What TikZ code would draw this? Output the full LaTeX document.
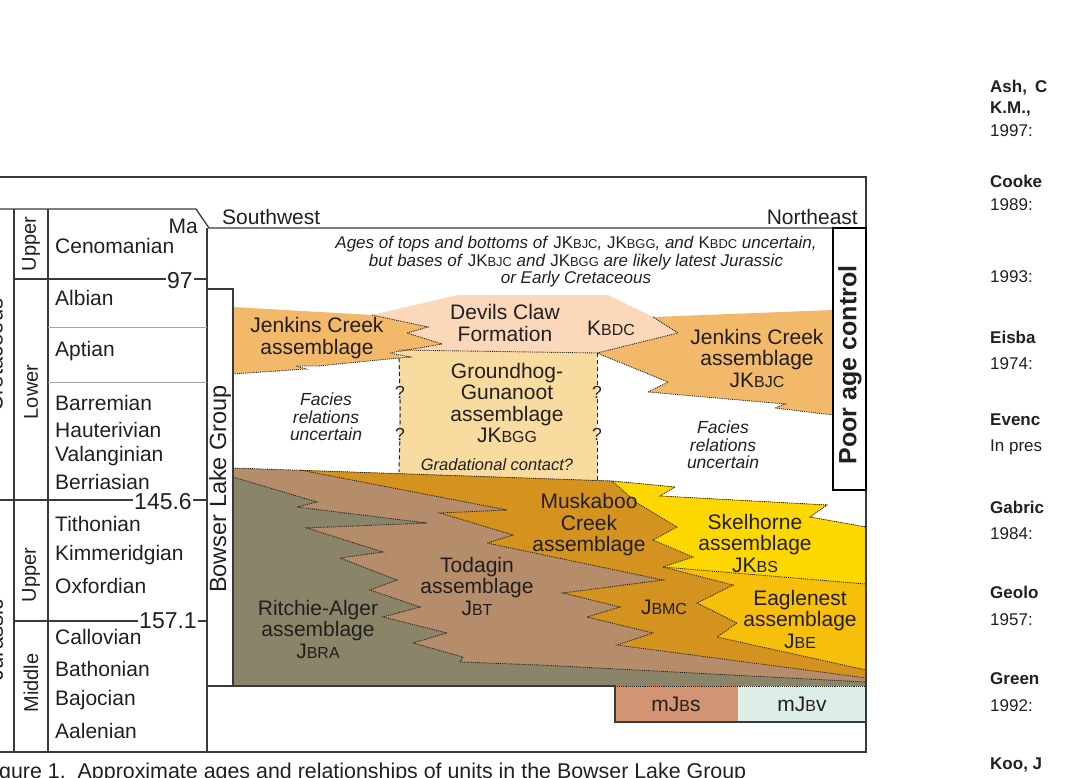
\documentclass[tikz,border=0pt]{standalone}
\usepackage{fontspec}
\setmainfont{Liberation Sans}
\usepackage{xcolor}
\usepackage{tikz}
\definecolor{framecol}{HTML}{3A3A3A}
\definecolor{inkcol}{HTML}{231F20}
\definecolor{jenkins}{HTML}{F2B96B}
\definecolor{devils}{HTML}{FAD8B9}
\definecolor{groundhog}{HTML}{F8DB9F}
\definecolor{ritchie}{HTML}{8A8468}
\definecolor{todagin}{HTML}{B58D6B}
\definecolor{muskaboo}{HTML}{D4931F}
\definecolor{skelhorne}{HTML}{FDD800}
\definecolor{eaglenest}{HTML}{F6BF0C}
\definecolor{mjbs}{HTML}{D39474}
\definecolor{mjbv}{HTML}{DDEEE6}
\newcommand{\fsize}[2]{\fontsize{#1}{#2}\selectfont}
\makeatletter
\newcommand{\smc}[1]{{\fontsize{\fpeval{0.76*\f@size}}{\f@baselineskip}\selectfont\upshape #1}}
\makeatother

\begin{document}
\begin{tikzpicture}[x=1pt,y=-1pt,
    frame/.style={draw=framecol,line width=1.3pt},
    thinrule/.style={draw=gray!70,line width=1pt},
    contact/.style={draw=inkcol,densely dotted,line width=0.9pt},
    gcontact/.style={draw=inkcol,dash pattern=on 4pt off 3pt,line width=1pt},
    unit/.style={font=\fsize{21}{21.5},align=center,text=inkcol,inner sep=0pt},
    stage/.style={font=\fsize{21}{21},text=inkcol,anchor=west,inner sep=0pt},
    epoch/.style={font=\fsize{20}{20},text=inkcol,rotate=90,inner sep=0pt},
    period/.style={font=\fsize{22}{22},text=inkcol,rotate=90,inner sep=0pt},
    age/.style={font=\fsize{23}{23},text=inkcol,inner sep=1.5pt},
    note/.style={font=\fsize{17.5}{17.5}\itshape,align=center,text=inkcol,inner sep=0pt},
    qmark/.style={font=\fsize{17.5}{17.5},text=inkcol,inner sep=1pt},
    ref/.style={font=\fsize{17}{17},text=inkcol,anchor=west,inner sep=0pt},
    refhead/.style={ref,font=\fsize{17}{17}\bfseries}]

  \useasboundingbox (0,0) rectangle (1068,778);
  \clip (0,0) rectangle (1068,778);

  \fill[devils] (372,315) -- (458,295) -- (608,295) -- (653,317) -- (678,333) -- (597,353) -- (399,353) -- cycle;
  \fill[jenkins] (233,307) -- (372,315) -- (428,327) -- (407,333) -- (442,344) -- (390,353) -- (410,357) -- (399,358) -- (318,366) -- (296,366) -- (306,369) -- (233,374) -- cycle;
  \fill[jenkins] (653,317) -- (833,310) -- (833,415) -- (775,408) -- (785,404) -- (648,392) -- (668,382) -- (597,353) -- (678,333) -- cycle;
  \fill[groundhog] (399,350) -- (597,353) -- (597,483) -- (399,476) -- cycle;

  \fill[ritchie] (233,468) -- (612,481) -- (675,487) -- (660,496) -- (827,505) -- (810,517) -- (866,527) -- (866,686) -- (233,686) -- cycle;
  \fill[todagin] (233,468) -- (612,481) -- (675,487) -- (660,496) -- (827,505) -- (810,517) -- (866,527) -- (866,682) -- (540,665) -- (460,662) -- (463,657) -- (413,643) -- (447,633) -- (383,617) -- (420,607) -- (370,590) -- (397,580) -- (340,558) -- (383,552) -- (307,528) -- (427,523) -- (297,507) -- (317,502) -- (233,477) -- cycle;
  \fill[muskaboo] (300,470) -- (612,481) -- (675,487) -- (660,496) -- (827,505) -- (810,517) -- (866,527) -- (866,678) -- (617,645) -- (653,633) -- (587,617) -- (620,607) -- (563,593) -- (663,580) -- (487,543) -- (513,535) -- (440,513) -- (507,510) -- cycle;
  \fill[skelhorne] (612,481) -- (675,487) -- (660,496) -- (827,505) -- (810,517) -- (866,527) -- (866,584) -- (663,567) -- (693,557) -- (653,540) -- (677,527) -- (637,503) -- cycle;
  \fill[eaglenest] (663,567) -- (866,584) -- (866,670) -- (717,637) -- (737,623) -- (697,603) -- (733,585) -- cycle;
  \fill[mjbs] (615,686) rectangle (738,722);
  \fill[mjbv] (738,686) rectangle (866,722);

  \draw[contact] (372,315) -- (428,327) -- (407,333) -- (442,344) -- (390,353) -- (410,357) -- (399,358) -- (318,366) -- (296,366) -- (306,369) -- (233,374);
  \draw[contact] (399,350) -- (597,353);
  \draw[contact] (653,317) -- (678,333) -- (597,353) -- (668,382) -- (648,392) -- (785,404) -- (775,408) -- (833,415);
  \draw[contact] (233,468) -- (612,481) -- (675,487) -- (660,496) -- (827,505) -- (810,517) -- (866,527);
  \draw[contact] (233,477) -- (317,502) -- (297,507) -- (427,523) -- (307,528) -- (383,552) -- (340,558) -- (397,580) -- (370,590) -- (420,607) -- (383,617) -- (447,633) -- (413,643) -- (463,657) -- (460,662) -- (540,665) -- (866,682);
  \draw[contact] (300,470) -- (507,510) -- (440,513) -- (513,535) -- (487,543) -- (663,580) -- (563,593) -- (620,607) -- (587,617) -- (653,633) -- (617,645) -- (866,678);
  \draw[contact] (612,481) -- (637,503) -- (677,527) -- (653,540) -- (693,557) -- (663,567) -- (733,585) -- (697,603) -- (737,623) -- (717,637) -- (866,670);
  \draw[contact] (663,567) -- (866,584);
  \draw[contact] (615,686) -- (866,686);

  \node[qmark] (q1) at (400,392) {?};
  \node[qmark] (q2) at (400,434) {?};
  \node[qmark] (q3) at (597,392) {?};
  \node[qmark] (q4) at (597,434) {?};
  \coordinate (gl-top) at (399,358);
  \coordinate (gl-bot) at (399,472);
  \coordinate (gr-top) at (597,353);
  \coordinate (gr-bot) at (597,481);
  \draw[gcontact] (gl-top) -- (q1) -- (q2) -- (gl-bot);
  \draw[gcontact] (gr-top) -- (q3) -- (q4) -- (gr-bot);

  \draw[frame] (0,177) -- (866,177) -- (866,752) -- (0,752);
  \draw[frame] (0,209) -- (196,209) -- (209,228) -- (866,228);
  \draw[frame] (207,228) -- (207,752);
  \draw[frame] (14,209) -- (14,752);
  \draw[frame] (48,209) -- (48,752);
  \draw[thinrule] (48,327) -- (207,327);
  \draw[thinrule] (48,382) -- (207,382);
  \draw[frame] (207,289) -- (233,289) -- (233,686);
  \draw[frame] (207,686) -- (615,686) -- (615,722) -- (866,722);
  \draw[draw=black,line width=2pt] (833,228) rectangle (866,490);

  \node[age] (a97) at (180,281) {97};
  \draw[frame] (14,279) -- (a97.west |- 0,279);
  \draw[frame] (a97.east |- 0,279) -- (207,279);
  \node[age] (a145) at (163,502) {145.6};
  \draw[frame] (0,500) -- (a145.west |- 0,500);
  \draw[frame] (a145.east |- 0,500) -- (207,500);
  \node[age] (a157) at (168,621) {157.1};
  \draw[frame] (14,621) -- (a157.west |- 0,621);
  \draw[frame] (a157.east |- 0,621) -- (207,621);

  \node[stage,anchor=east] (ma) at (198,226) {Ma};
  \node[stage] (cen) at (55,246) {Cenomanian};
  \node[stage] (alb) at (55,298) {Albian};
  \node[stage] (apt) at (55,351) {Aptian};
  \node[stage] (bar) at (55,403) {Barremian};
  \node[stage] (hau) at (55,430) {Hauterivian};
  \node[stage] (val) at (55,456) {Valanginian};
  \node[stage] (ber) at (55,482) {Berriasian};
  \node[stage] (tit) at (55,524) {Tithonian};
  \node[stage] (kim) at (55,555) {Kimmeridgian};
  \node[stage] (oxf) at (55,586) {Oxfordian};
  \node[stage] (cal) at (55,637) {Callovian};
  \node[stage] (bat) at (55,669) {Bathonian};
  \node[stage] (baj) at (55,700) {Bajocian};
  \node[stage] (aal) at (55,731) {Aalenian};

  \node[epoch] (kup) at (31,244) {Upper};
  \node[epoch] (klo) at (31,392) {Lower};
  \node[epoch] (jup) at (31,575) {Upper};
  \node[epoch] (jmi) at (31,683) {Middle};
  \node[period] (cret) at (-5,355) {Cretaceous};
  \node[period] (jur) at (-5,640) {Jurassic};

  \node[stage] (sw) at (222,217) {Southwest};
  \node[stage,anchor=east] (ne) at (858,217) {Northeast};
  \node[note,font=\fsize{17}{17.5}\itshape] (hdr) at (576,262) {Ages of tops and bottoms of \textup{JK\smc{BJC}}, \textup{JK\smc{BGG}}, and \textup{K\smc{BDC}} uncertain,\\but bases of \textup{JK\smc{BJC}} and \textup{JK\smc{BGG}} are likely latest Jurassic\\or Early Cretaceous};
  \node[unit,rotate=90,font=\fsize{23.5}{23.5}] (blg) at (220,489) {Bowser Lake Group};
  \node[text=inkcol,rotate=90,font=\fsize{25}{25}\bfseries,inner sep=0pt] (pac) at (850,365) {Poor age control};

  \node[unit] (jcsw) at (317,338) {Jenkins Creek\\assemblage};
  \node[unit] (dc) at (505,323) {Devils Claw\\Formation};
  \node[unit] (kbdc) at (611,328) {K\smc{BDC}};
  \node[unit] (gg) at (507,403) {Groundhog-\\Gunanoot\\assemblage\\JK\smc{BGG}};
  \node[unit] (jcne) at (757,358) {Jenkins Creek\\assemblage\\JK\smc{BJC}};
  \node[note] (fsw) at (326,417) {Facies\\relations\\uncertain};
  \node[note] (fne) at (723,445) {Facies\\relations\\uncertain};
  \node[note,font=\fsize{16.5}{16.5}\itshape] (grad) at (497,465) {Gradational contact?};
  \node[unit] (ra) at (318,629) {Ritchie-Alger\\assemblage\\J\smc{BRA}};
  \node[unit] (td) at (477,586) {Todagin\\assemblage\\J\smc{BT}};
  \node[unit] (mc) at (589,525) {Muskaboo\\Creek\\assemblage};
  \node[unit] (jbmc) at (664,607) {J\smc{BMC}};
  \node[unit] (sk) at (755,543) {Skelhorne\\assemblage\\JK\smc{BS}};
  \node[unit] (eg) at (800,619) {Eaglenest\\assemblage\\J\smc{BE}};
  \node[unit] (mjbslbl) at (676,704) {mJ\smc{B}s};
  \node[unit] (mjbvlbl) at (802,704) {mJ\smc{B}v};

  \node[anchor=base west,font=\fsize{21.4}{21.4},text=inkcol,inner sep=0pt] (cap) at (-1,778) {gure 1.\ \ Approximate ages and relationships of units in the Bowser Lake Group};

  \node[refhead] (r1) at (990,88) {Ash,\hspace{8pt}C};
  \node[refhead] (r2) at (990,109) {K.M.,};
  \node[ref] (r3) at (990,131) {1997:};
  \node[refhead] (r4) at (990,181) {Cooke};
  \node[ref] (r5) at (990,205) {1989:};
  \node[ref] (r6) at (990,277) {1993:};
  \node[refhead] (r7) at (990,337) {Eisba};
  \node[ref] (r8) at (990,364) {1974:};
  \node[refhead] (r9) at (990,420) {Evenc};
  \node[ref] (r10) at (990,447) {In pres};
  \node[refhead] (r11) at (990,507) {Gabric};
  \node[ref] (r12) at (990,534) {1984:};
  \node[refhead] (r13) at (990,592) {Geolo};
  \node[ref] (r14) at (990,620) {1957:};
  \node[refhead] (r15) at (990,679) {Green};
  \node[ref] (r16) at (990,706) {1992:};
  \node[refhead] (r17) at (990,765) {Koo, J};
\end{tikzpicture}
\end{document}
